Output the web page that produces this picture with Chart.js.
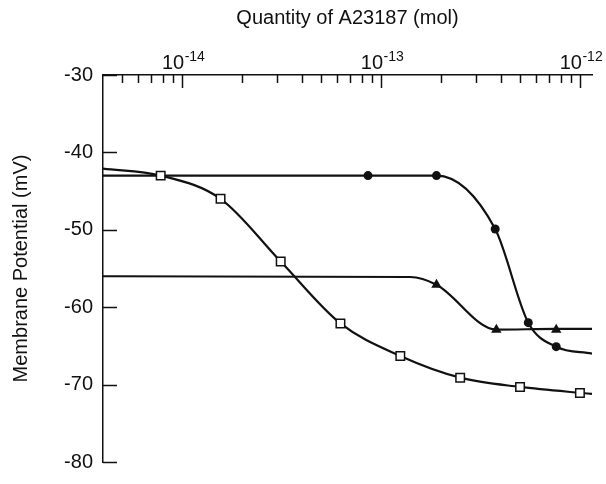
<!DOCTYPE html>
<html lang="en">
<head>
    <meta charset="UTF-8">
    <title>Membrane Potential vs A23187</title>
    <style>
        body { margin: 0; background: #fff; }
        .chart-container { width: 606px; height: 484px; }
    </style>
</head>
<body>
    <div class="chart-container">
        <canvas id="myChart"></canvas>
    </div>

    <script src="https://cdn.jsdelivr.net/npm/chart.js"></script>
    <script>
        // measured points (mol, mV)
        var squareX = [7.8e-15, 1.56e-14, 3.13e-14, 6.25e-14, 1.25e-13, 2.5e-13, 5e-13, 1e-12];
        var squareY = [-43, -46, -54.1, -62.1, -66.3, -69.1, -70.3, -71.1];

        var circleX = [8.6e-14, 1.9e-13, 3.75e-13, 5.5e-13, 7.6e-13];
        var circleY = [-43, -43, -49.9, -62, -65.1];

        var triangleX = [1.9e-13, 3.8e-13, 7.6e-13];
        var triangleY = [-57.1, -62.9, -62.9];

        // hand-drawn fitted curves
        var squareCurveX = [4e-15, 7.8e-15, 1.56e-14, 3.13e-14, 6.25e-14, 1.25e-13, 2.5e-13, 5e-13, 1.15e-12];
        var squareCurveY = [-42.1, -43, -46, -54.1, -62.1, -66.3, -69.1, -70.3, -71.2];

        var circleCurveX = [4e-15, 8.6e-14, 1.9e-13, 3.75e-13, 5.5e-13, 7.6e-13, 1.15e-12];
        var circleCurveY = [-43, -43, -43, -49.9, -62, -65.1, -66];

        var triangleCurveX = [4e-15, 1.4e-13, 1.9e-13, 3.8e-13, 7.6e-13, 1.15e-12];
        var triangleCurveY = [-56, -56.1, -57.1, -62.9, -62.8, -62.8];

        // axis ticks
        var xTickValues = [5e-15, 6e-15, 7e-15, 8e-15, 9e-15, 1e-14,
            2e-14, 3e-14, 4e-14, 5e-14, 6e-14, 7e-14, 8e-14, 9e-14, 1e-13,
            2e-13, 3e-13, 4e-13, 5e-13, 6e-13, 7e-13, 8e-13, 9e-13, 1e-12];
        var xDecades = [1e-14, 1e-13, 1e-12];
        var xDecadeExponents = ['-14', '-13', '-12'];

        var FONT = "'Liberation Sans', Arial, sans-serif";
        var INK = '#111';

        function pts(xs, ys) {
            return xs.map(function (x, i) { return { x: x, y: ys[i] }; });
        }

        var axisTicks = {
            id: 'axisTicks',
            afterDraw: function (chart) {
                var ctx = chart.ctx;
                var area = chart.chartArea;
                var xs = chart.scales.x;
                var ys = chart.scales.y;
                ctx.save();
                ctx.strokeStyle = INK;
                ctx.lineWidth = 1.5;
                xTickValues.forEach(function (v) {
                    var px = Math.round(xs.getPixelForValue(v)) + 0.5;
                    var len = xDecades.indexOf(v) >= 0 ? 13 : 8;
                    ctx.beginPath();
                    ctx.moveTo(px, area.top);
                    ctx.lineTo(px, area.top + len);
                    ctx.stroke();
                });
                ys.ticks.forEach(function (t) {
                    var py = Math.round(ys.getPixelForValue(t.value)) + 0.5;
                    ctx.beginPath();
                    ctx.moveTo(area.left, py);
                    ctx.lineTo(area.left + 14, py);
                    ctx.stroke();
                });

                ctx.fillStyle = INK;
                ctx.textBaseline = 'alphabetic';
                ctx.textAlign = 'left';
                xDecades.forEach(function (v, i) {
                    var px = xs.getPixelForValue(v);
                    ctx.font = '20px ' + FONT;
                    var w1 = ctx.measureText('10').width;
                    var start = px - w1 + 2;
                    ctx.fillText('10', start, area.top - 6);
                    ctx.font = '14px ' + FONT;
                    ctx.fillText(xDecadeExponents[i], start + w1 + 0.5, area.top - 14);
                });
                ctx.restore();
            }
        };

        var ctx = document.getElementById('myChart').getContext('2d');
        var myChart = new Chart(ctx, {
            type: 'line',
            data: {
                datasets: [
                    {
                        data: pts(squareX, squareY), showLine: false, order: 0,
                        pointStyle: 'rect', pointRadius: 6, pointBorderWidth: 1.5,
                        pointBackgroundColor: '#fff', pointBorderColor: INK
                    },
                    {
                        data: pts(circleX, circleY), showLine: false, order: 0,
                        pointStyle: 'circle', pointRadius: 4.5, pointBorderWidth: 0,
                        pointBackgroundColor: INK
                    },
                    {
                        data: pts(triangleX, triangleY), showLine: false, order: 0,
                        pointStyle: 'triangle', pointRadius: 6, pointBorderWidth: 0,
                        pointBackgroundColor: INK
                    },
                    {
                        data: pts(squareCurveX, squareCurveY), order: 1, pointRadius: 0,
                        borderColor: INK, borderWidth: 2.2, cubicInterpolationMode: 'monotone'
                    },
                    {
                        data: pts(circleCurveX, circleCurveY), order: 1, pointRadius: 0,
                        borderColor: INK, borderWidth: 2.2, cubicInterpolationMode: 'monotone'
                    },
                    {
                        data: pts(triangleCurveX, triangleCurveY), order: 1, pointRadius: 0,
                        borderColor: INK, borderWidth: 2.2, cubicInterpolationMode: 'monotone'
                    }
                ]
            },
            options: {
                responsive: true,
                maintainAspectRatio: false,
                animation: false,
                layout: { padding: { left: 0, top: 0, right: 14, bottom: 9 } },
                plugins: {
                    legend: { display: false },
                    tooltip: { enabled: false }
                },
                scales: {
                    x: {
                        type: 'logarithmic',
                        position: 'top',
                        min: 4e-15,
                        max: 1.15e-12,
                        grid: { display: false },
                        border: { display: true, color: INK, width: 1.5 },
                        ticks: { display: false },
                        title: {
                            display: true,
                            text: 'Quantity of A23187 (mol)',
                            color: INK,
                            font: { family: FONT, size: 20 },
                            padding: { top: 6, bottom: 0 }
                        },
                        afterFit: function (scale) { scale.height = 75; }
                    },
                    y: {
                        min: -80,
                        max: -30,
                        grid: { display: false, drawTicks: false },
                        border: { display: true, color: INK, width: 1.5 },
                        ticks: {
                            stepSize: 10,
                            padding: 10,
                            color: INK,
                            font: { family: FONT, size: 20 }
                        },
                        title: {
                            display: true,
                            text: 'Membrane Potential (mV)',
                            color: INK,
                            font: { family: FONT, size: 20 },
                            padding: { top: 9, bottom: 0 }
                        },
                        afterFit: function (scale) { scale.width = 103; }
                    }
                }
            },
            plugins: [axisTicks]
        });
    </script>
</body>
</html>
